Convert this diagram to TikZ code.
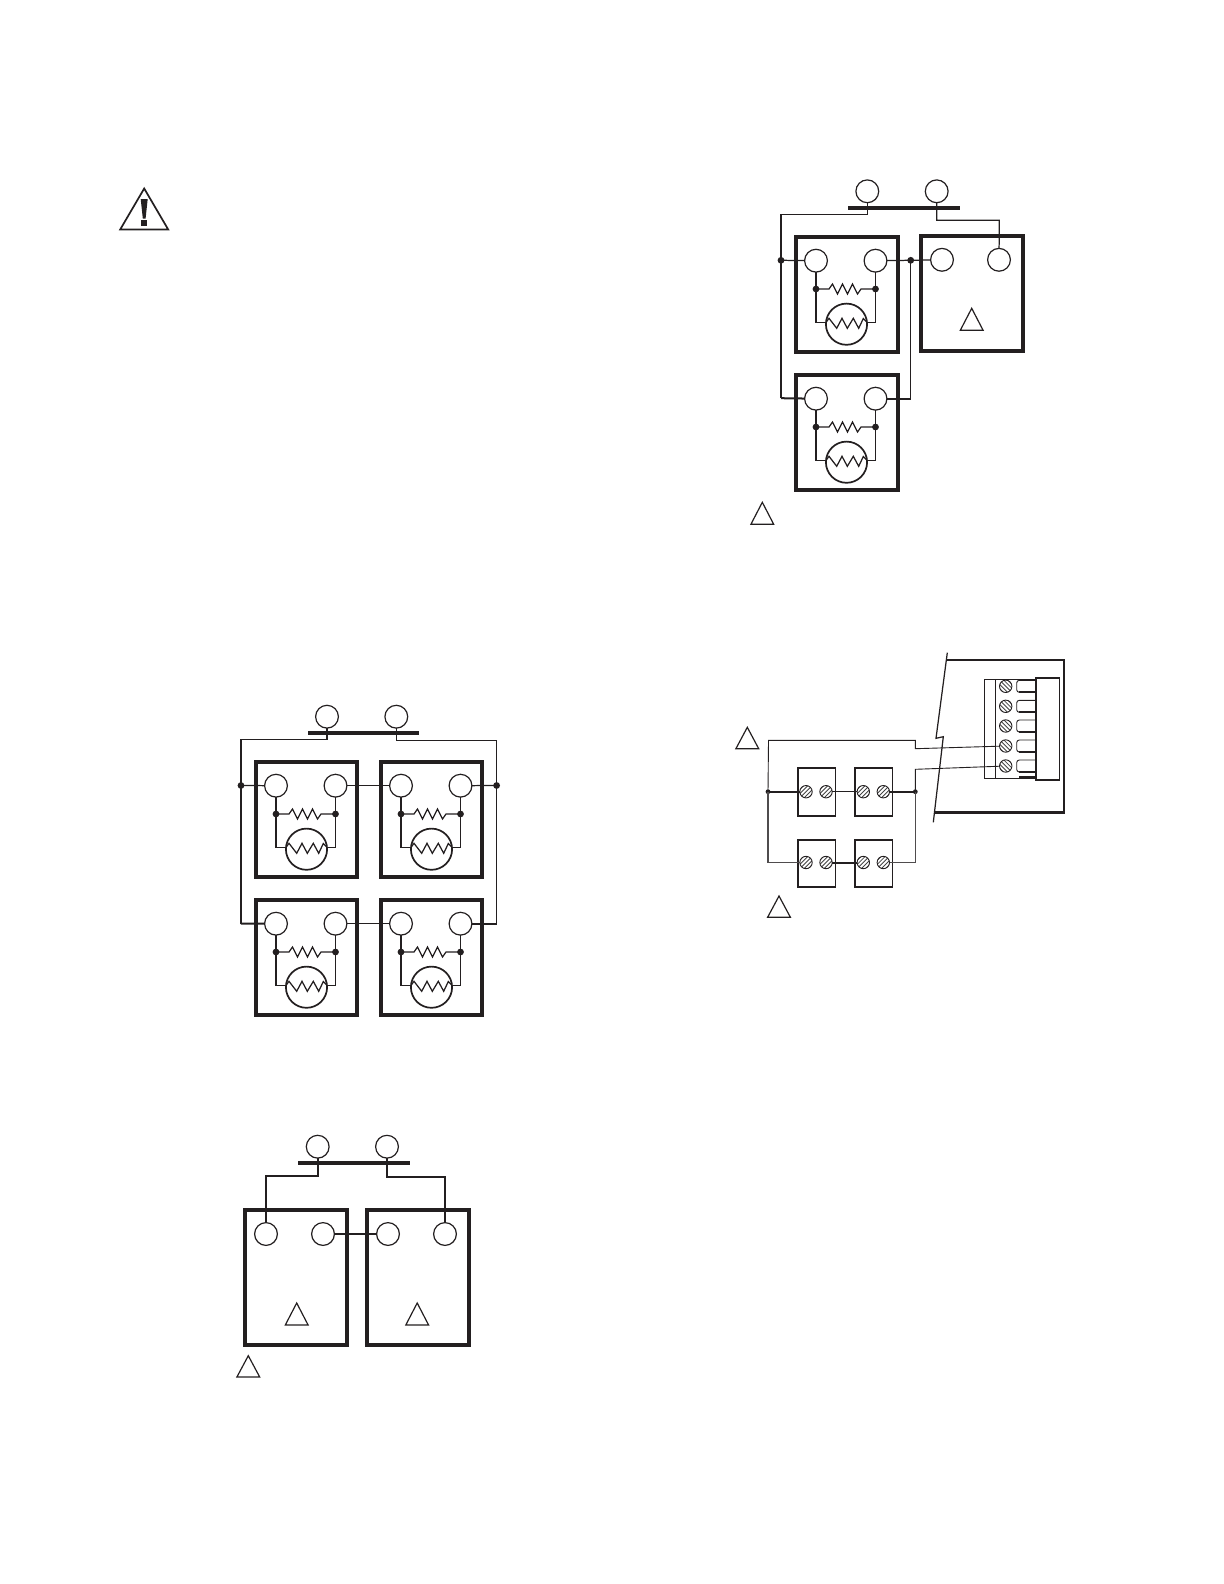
\documentclass[tikz,border=0pt]{standalone}
\definecolor{ink}{HTML}{231F20}
\definecolor{hatch}{HTML}{444444}
\tikzset{
  x=0.5pt,y=-0.5pt,
  every path/.style={color=ink},
  wire/.style={draw=ink,line width=0.62pt},
  wirethick/.style={draw=ink,line width=1pt},
  wirethin/.style={draw=ink,line width=0.45pt},
  heavybox/.style={draw=ink,line width=1.8pt,rectangle,inner sep=0pt,outer sep=0pt,anchor=north west},
  term/.style={draw=ink,line width=0.6pt,circle,inner sep=0pt,outer sep=0pt,minimum size=11.4pt},
  dotn/.style={fill=ink,circle,inner sep=0pt,outer sep=0pt,minimum size=3.4pt},
  motor/.style={draw=ink,line width=0.85pt,circle,inner sep=0pt,outer sep=0pt,minimum size=20.6pt},
  barn/.style={fill=ink,rectangle,inner sep=0pt,outer sep=0pt,minimum height=2pt},
  flagtri/.style={draw=ink,line width=0.6pt,line join=miter},
  smallbox/.style={draw=ink,line width=0.8pt,rectangle,inner sep=0pt,outer sep=0pt,anchor=north west,minimum width=18.8pt},
  screw/.style={draw=ink,line width=0.45pt,circle,inner sep=0pt,outer sep=0pt,minimum size=6.2pt,
    path picture={
      \foreach \k in {-2,-1,0,1,2}{
        \draw[hatch,line width=0.42pt] ([xshift=\k*2.1pt-4pt,yshift=-4pt]path picture bounding box.center) -- ([xshift=\k*2.1pt+4pt,yshift=4pt]path picture bounding box.center);
      }}},
  screwb/.style={draw=ink,line width=0.45pt,circle,inner sep=0pt,outer sep=0pt,minimum size=6.2pt,
    path picture={
      \foreach \k in {-2,-1,0,1,2}{
        \draw[hatch,line width=0.42pt] ([xshift=\k*2.1pt-4pt,yshift=4pt]path picture bounding box.center) -- ([xshift=\k*2.1pt+4pt,yshift=-4pt]path picture bounding box.center);
      }}},
}
\newcommand{\tri}[3]{\draw[flagtri] (#1,#2) -- (#1+11.4,#3) -- (#1-11.4,#3) -- cycle;}
% name, x, y, width of the box in pt
\newcommand{\relay}[4]{%
  \begin{scope}[shift={(#2,#3)}]
    \node[heavybox,minimum width=#4,minimum height=57.5pt] (#1-box) at (0,0) {};
    \node[term] (#1-a) at (20,23.7) {};
    \node[term] (#1-b) at (79.5,23.7) {};
    \node[dotn] (#1-c) at (20,52) {};
    \node[dotn] (#1-d) at (79.5,52) {};
    \node[motor] (#1-m) at (50.5,87.2) {};
    \draw[wire] (#1-a) -- (#1-c.center);
    \draw[wire] (#1-b) -- (#1-d.center);
    \draw[wire,line join=miter] (#1-c.center) -- (33,52) -- (36.5,47) -- (41.5,57) -- (46.5,47) -- (51.5,57) -- (56.5,47) -- (61.5,57) -- (65,52) -- (#1-d.center);
    \draw[wire] (#1-c.center) |- (#1-m.175);
    \draw[wire] (#1-d.center) |- (#1-m.5);
    \draw[wire,line join=miter] (#1-m.175) -- (33,81.3) -- (40.7,91.3) -- (46,81.3) -- (51.3,91.3) -- (57.3,81.3) -- (62.7,91.3) -- (67.3,81.5) -- (#1-m.5);
  \end{scope}}
\begin{document}
\begin{tikzpicture}
\useasboundingbox (0,0) rectangle (1224,1584);
% warning sign
\draw[draw=ink,line width=0.85pt,line join=miter] (144.2,188.5) -- (168.2,229.5) -- (120.2,229.5) -- cycle;
\fill[ink] (140.7,199) -- (147.7,199) -- (145.6,218.5) -- (142.8,218.5) -- cycle;
\fill[ink] (141.2,220.3) rectangle (147.2,225.8);

% ---------- panel: four relays
\node[term] (A-s1) at (327,716.7) {};
\node[term] (A-s2) at (396.3,716.7) {};
\node[barn,minimum width=55.5pt] (A-bar) at (363.5,732.7) {};
\relay{A1}{256}{762}{50.4pt}
\relay{A2}{381}{762}{50.4pt}
\relay{A3}{256}{900}{50.4pt}
\relay{A4}{381}{900}{50.4pt}
\node[dotn] (A-dl) at (241,785.5) {};
\node[dotn] (A-dr) at (496.6,785.5) {};
\coordinate (A-l1) at (241,739.7);
\coordinate (A-r1) at (496.6,740.5);
\coordinate (A-l2) at (241,923.5);
\coordinate (A-r2) at (496.6,923.7);
\draw[wire] (A-s1) |- (A-l1) -- (A-dl.center);
\draw[wire] (A-s2) |- (A-r1) -- (A-dr.center);
\draw[wire] (A-dl.center) -- (A1-a);
\draw[wire] (A1-b) -- (A2-a);
\draw[wire] (A2-b) -- (A-dr.center);
\draw[wire] (A-dl.center) -- (A-l2);
\draw[wirethick] (A-l2) -- (A3-a);
\draw[wire] (A-dr.center) -- (A-r2);
\draw[wirethick] (A-r2) -- (A4-b);
\draw[wirethin] (A3-b) -- (A4-a);

% ---------- panel: two devices
\node[term] (B-s1) at (317.7,1146.7) {};
\node[term] (B-s2) at (387,1146.7) {};
\node[barn,minimum width=56pt] (B-bar) at (354,1162.7) {};
\node[heavybox,minimum width=51pt,minimum height=67.5pt] (B1) at (245,1210) {};
\node[heavybox,minimum width=51pt,minimum height=67.5pt] (B2) at (367,1210) {};
\node[term] (B1-a) at (266,1234) {};
\node[term] (B1-b) at (323,1234) {};
\node[term] (B2-a) at (388,1234) {};
\node[term] (B2-b) at (445,1234) {};
\coordinate (B-l) at (266,1176);
\coordinate (B-r) at (445,1176.7);
\draw[wirethick] (B-s1) |- (B-l) -- (B1-a);
\draw[wirethick] (B-s2) |- (B-r) -- (B2-b);
\draw[wirethick] (B1-b) -- (B2-a);
\tri{296.7}{1303}{1325}
\tri{417.2}{1303}{1325}
\tri{248.3}{1355.7}{1377}

% ---------- panel: upper right
\node[term] (C-s1) at (867.3,191.3) {};
\node[term] (C-s2) at (936.7,191.3) {};
\node[barn,minimum width=56pt] (C-bar) at (904,207.7) {};
\relay{C1}{796}{237}{51pt}
\relay{C3}{796}{375}{51pt}
\node[heavybox,minimum width=51pt,minimum height=57.5pt] (C2) at (921,236) {};
\node[term] (C2-a) at (942,259.8) {};
\node[term] (C2-b) at (999,259.8) {};
\node[dotn] (C-dl) at (781,260.3) {};
\node[dotn] (C-dm) at (910.7,260.3) {};
\coordinate (C-l) at (781,214.3);
\coordinate (C-r) at (999.3,220.3);
\coordinate (C-la) at (781,398.2);
\coordinate (C-ma) at (910.7,398.7);
\draw[wire] (C-s1) |- (C-l) -- (C-dl.center);
\draw[wire] (C-s2) |- (C-r) -- (C2-b);
\draw[wire] (C-dl.center) -- (C1-a);
\draw[wire] (C1-b) -- (C-dm.center) -- (C2-a);
\draw[wire] (C-dl.center) -- (C-la);
\draw[wirethick] (C-la) -- (C3-a);
\draw[wirethin] (C-dm.center) -- (C-ma);
\draw[wirethick] (C-ma) -- (C3-b);
\tri{971.7}{308.3}{330.3}
\tri{762.3}{502.3}{524.3}

% ---------- panel: terminal strip
\draw[draw=ink,line width=1.4pt,line join=miter] (947.3,660) -- (1064,660) -- (1064,812.7) -- (934.3,812.7);
\draw[wire,line join=miter] (947.3,652.7) -- (936,738.3) -- (943.3,736.7) -- (933.3,822.3);
\draw[wirethin] (984.3,679.3) rectangle (1035.7,778.3);
\draw[wirethin] (995.7,679.3) -- (995.7,778.3);
\draw[draw=ink,line width=0.95pt] (1059.7,677.7) -- (1035.7,677.7) -- (1035.7,780.3) -- (1059.7,780.3);
\draw[wire] (1059.7,677.7) -- (1059.7,780.3);
\foreach \i/\yy in {1/686.3,2/706.3,3/726,4/746,5/766}{
  \node[screwb] (T\i) at (1005.7,\yy) {};
  \draw[wirethin,rounded corners=1.3pt] (1035.7,\yy-6) -- (1016.7,\yy-6) -- (1016.7,\yy+6) -- (1035.7,\yy+6);
  \draw[wirethick] (1019,\yy+6) -- (1035.7,\yy+6);
}
\draw[wirethick] (1019,777.3) -- (1035.7,777.3);
\node[smallbox,minimum height=24.2pt] (D1) at (797.7,767.7) {};
\node[smallbox,minimum height=24.2pt] (D2) at (854.7,767.7) {};
\node[smallbox,minimum height=23.7pt] (D3) at (797.7,839.7) {};
\node[smallbox,minimum height=23.7pt] (D4) at (854.7,839.7) {};
\node[screw] (D1-a) at (806,791.7) {};
\node[screw] (D1-b) at (826,791.7) {};
\node[screw] (D2-a) at (863.3,791.7) {};
\node[screw] (D2-b) at (883.3,791.7) {};
\node[screw] (D3-a) at (806,862.5) {};
\node[screw] (D3-b) at (826,862.5) {};
\node[screw] (D4-a) at (863.3,862.5) {};
\node[screw] (D4-b) at (883.3,862.5) {};
\node[dotn,minimum size=2.4pt] (D-dl) at (768,791.7) {};
\node[dotn,minimum size=2.4pt] (D-dr) at (915.3,791.7) {};
\coordinate (D-u1) at (768.5,740.3);
\coordinate (D-u2) at (915.3,740.3);
\coordinate (D-u3) at (915.3,748.7);
\coordinate (D-v1) at (915.3,769.3);
\coordinate (D-bl) at (768,862.5);
\coordinate (D-br) at (915.3,862.5);
\draw[wirethin,line join=miter] (D-dl.center) -- (D-u1) -- (D-u2) -- (D-u3) -- (T4);
\draw[wirethin,line join=miter] (D-dr.center) -- (D-v1) -- (T5);
\draw[wirethick] (D-dl.center) -- (D1-a);
\draw[wirethin] (D1-b) -- (D2-a);
\draw[wirethick] (D2-b) -- (D-dr.center);
\draw[wire,draw=ink!80] (D-dl.center) -- (D-bl) -- (D3-a);
\draw[wirethick] (D3-b) -- (D4-a);
\draw[wire,draw=ink!80] (D4-b) -- (D-br) -- (D-dr.center);
\tri{747.3}{727.3}{748.7}
\tri{779}{896}{917.3}
\end{tikzpicture}
\end{document}
